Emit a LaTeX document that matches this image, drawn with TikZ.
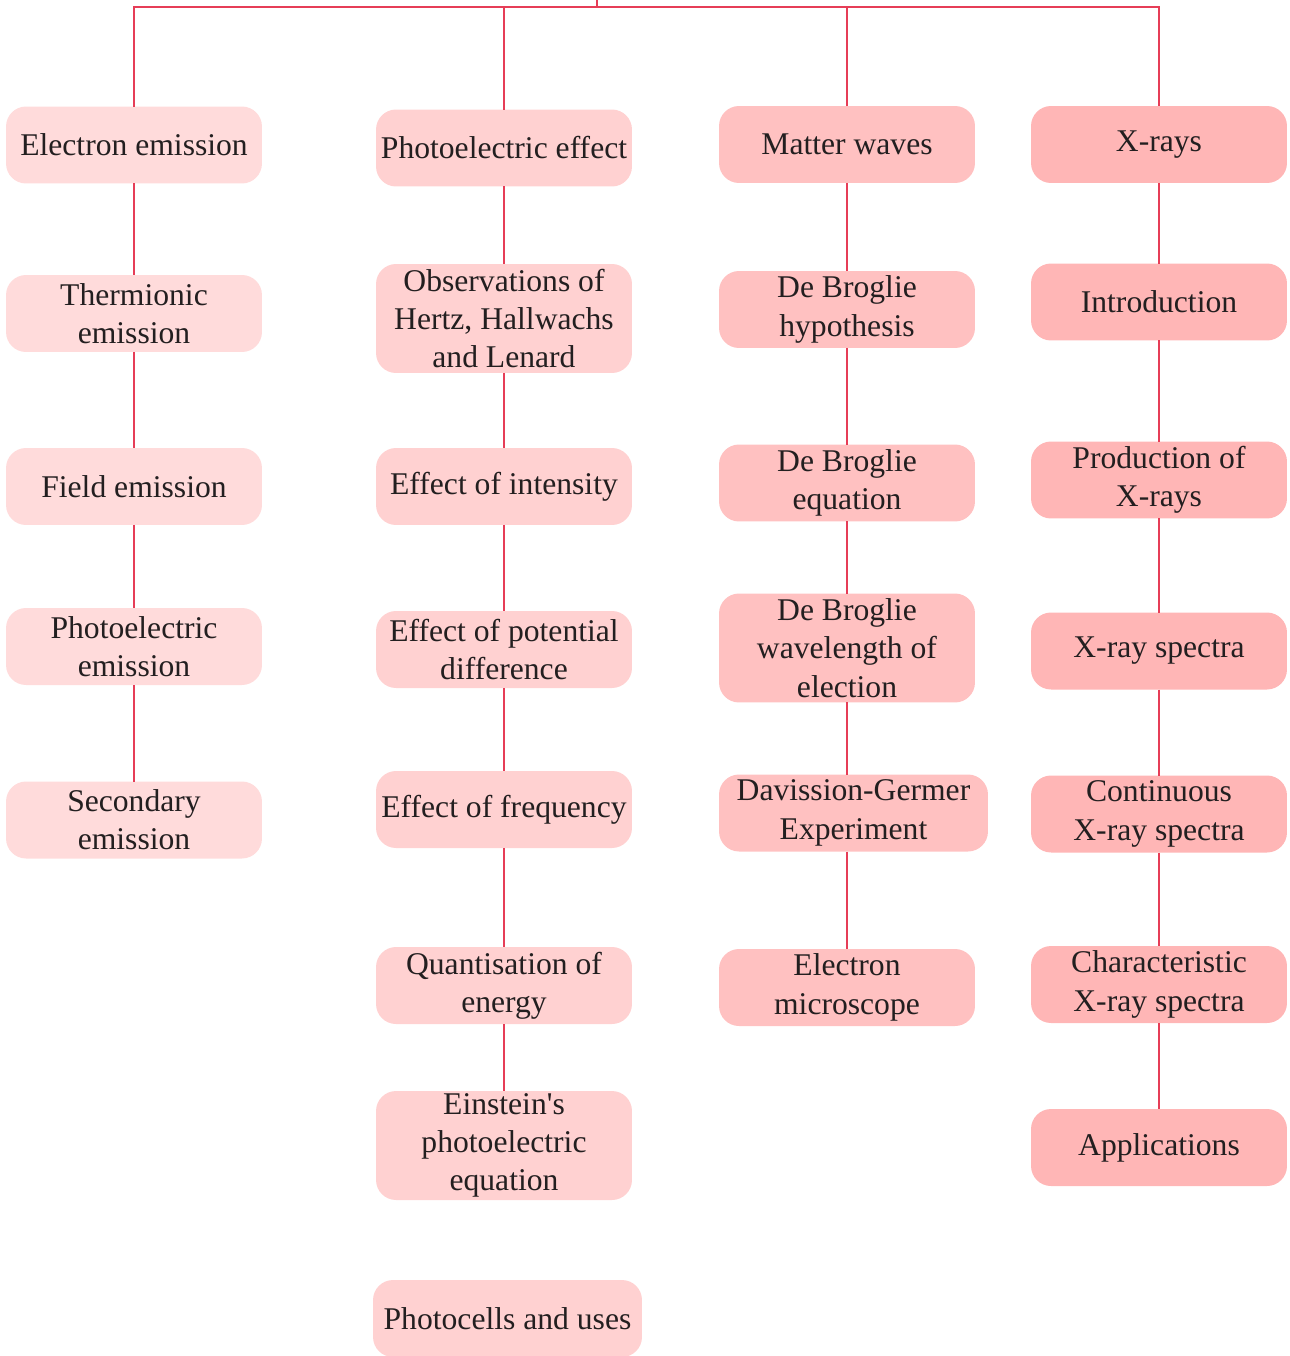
\documentclass[tikz,border=0pt]{standalone}
\usepackage{fontspec}
\setmainfont{Liberation Serif}
\usetikzlibrary{shapes.geometric,arrows,fit,matrix,positioning}
\definecolor{linkred}{HTML}{E63D57}
\definecolor{ink}{HTML}{231F20}
\definecolor{emitpink}{HTML}{FFDBDB}
\definecolor{photopink}{HTML}{FFD1D1}
\definecolor{matterpink}{HTML}{FFC1C1}
\definecolor{xraypink}{HTML}{FFB6B6}

\begin{document}
\begin{tikzpicture}[x=0.02cm,y=-0.02cm]
\tikzstyle{topic}=[rectangle, rounded corners=0.4cm, inner sep=0pt, outer sep=0pt,
	minimum width=5.12cm, minimum height=1.54cm, align=center, text=ink,
	font=\fontsize{18}{21.8}\selectfont
]
\tikzstyle{tall}=[minimum height=2.18cm]
\tikzstyle{wide}=[minimum width=5.38cm]
\tikzstyle{emit}=[topic, fill=emitpink]
\tikzstyle{photo}=[topic, fill=photopink]
\tikzstyle{matter}=[topic, fill=matterpink]
\tikzstyle{xray}=[topic, fill=xraypink]
\tikzstyle{wire}=[draw=linkred, line width=1.2pt]
\useasboundingbox (0,0) rectangle (1289,1356);

% electron emission
\node[emit] (em) at (134,145) {Electron emission};
\node[emit] (th) at (134,313.5) {Thermionic\\emission};
\node[emit] (fi) at (134,486.5) {Field emission};
\node[emit] (ph) at (134,646.5) {Photoelectric\\emission};
\node[emit] (se) at (134,820) {Secondary\\emission};

% photoelectric effect
\node[photo] (pe) at (504,148) {Photoelectric effect};
\node[photo,tall] (ob) at (504,318.5) {Observations of\\Hertz, Hallwachs\\and Lenard};
\node[photo] (in) at (504,486.5) {Effect of intensity};
\node[photo] (po) at (504,649.5) {Effect of potential\\difference};
\node[photo] (fr) at (504,809.5) {Effect of frequency};
\node[photo] (qu) at (504,985.5) {Quantisation of\\energy};
\node[photo,tall] (ei) at (504,1145.5) {Einstein\textquotesingle s\\photoelectric\\equation};
\node[photo,wide] (pc) at (507.5,1318.5) {Photocells and uses};

% matter waves
\node[matter] (mw) at (847,144.5) {Matter waves};
\node[matter] (hy) at (847,309.5) {De Broglie\\hypothesis};
\node[matter] (eq) at (847,483) {De Broglie\\equation};
\node[matter,tall] (wl) at (847,648) {De Broglie\\wavelength of\\election};
\node[matter,wide] (dg) at (853.5,813) {Davission-Germer\\Experiment};
\node[matter] (mi) at (847,987.5) {Electron\\microscope};

% x-rays
\node[xray] (xr) at (1159,144.5) {X-rays};
\node[xray] (it) at (1159,302) {Introduction};
\node[xray] (pr) at (1159,480) {Production of\\X-rays};
\node[xray] (sp) at (1159,651) {X-ray spectra};
\node[xray] (co) at (1159,814) {Continuous\\X-ray spectra};
\node[xray] (ch) at (1159,984.5) {Characteristic\\X-ray spectra};
\node[xray] (ap) at (1159,1147.5) {Applications};

% top bar
\coordinate (top) at (597,7);
\coordinate (stub) at (597,0);
\draw[wire] (em.north) |- (top) -| (xr.north);
\path[wire] (top) edge (stub);
\path[wire] (pe.north) edge (pe.north |- top);
\path[wire] (mw.north) edge (mw.north |- top);

% column links
\path[wire] (em) edge (th) (th) edge (fi) (fi) edge (ph) (ph) edge (se);
\path[wire] (pe) edge (ob) (ob) edge (in) (in) edge (po) (po) edge (fr)
	(fr) edge (qu) (qu) edge (ei);
\path[wire] (mw) edge (hy) (hy) edge (eq) (eq) edge (wl);
\path[wire] (wl.south) edge (wl.south |- dg.north);
\path[wire] (dg.south -| wl.south) edge (mi.north);
\path[wire] (xr) edge (it) (it) edge (pr) (pr) edge (sp) (sp) edge (co)
	(co) edge (ch) (ch) edge (ap);

\end{tikzpicture}
\end{document}
